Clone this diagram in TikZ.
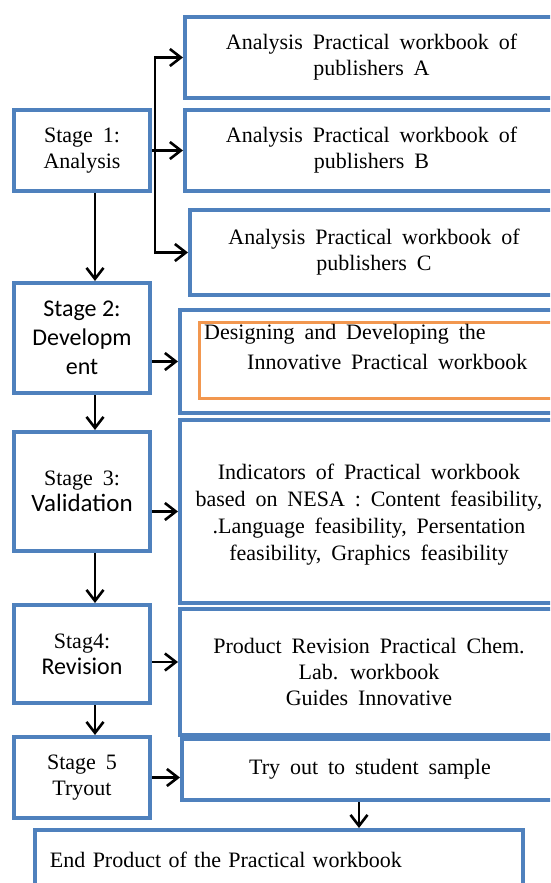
\documentclass[tikz,border=0pt]{standalone}
\usepackage{fontspec}
\setmainfont{Liberation Serif}[WordSpace=1.8]
\newfontfamily\calfont{Carlito}
\usetikzlibrary{arrows.meta}
\definecolor{boxblue}{RGB}{79,129,189}
\definecolor{boxorange}{RGB}{242,151,79}
\begin{document}
\begin{tikzpicture}[x=1pt,y=-1pt]

      \useasboundingbox (0,0) rectangle (550,883);
      \clip (0,0) rectangle (550,883);

      % stages on the left
      \begin{scope}[every node/.style={draw=boxblue,line width=4pt,fill=white,
          align=center,inner sep=0pt,minimum width=136pt,
          font=\fontsize{22}{26}\selectfont}]
        \node[minimum height=81pt] (s1) at (82,150.5) {Stage 1:\\Analysis};
        \node[minimum height=110pt,font=\calfont\fontsize{24}{29}\selectfont]
          (s2) at (82,338) {Stage 2:\\Developm\\ent};
        \node[minimum height=119pt] (s3) at (82,491.5)
          {Stage 3:\\{\calfont\fontsize{25}{29}\selectfont Validation}};
        \node[minimum height=98pt] (s4) at (82,654)
          {Stag4:\\{\calfont\fontsize{24}{30}\selectfont Revision}};
        \node[minimum height=81pt] (s5) at (82,777.5) {Stage 5\\Tryout};
      \end{scope}

      % boxes on the right
      \begin{scope}[every node/.style={draw=boxblue,line width=4pt,fill=white,
          align=center,inner sep=0pt,minimum width=373pt,
          font=\fontsize{22}{26}\selectfont}]
        \node[minimum height=81pt] (a) at (371.5,57.5)
          {Analysis Practical workbook of\\publishers A};
        \node[minimum height=81pt] (b) at (371.5,150.5)
          {Analysis Practical workbook of\\publishers B};
        \node[minimum height=85pt,minimum width=368pt] (c) at (374,252.5)
          {Analysis Practical workbook of\\publishers C};
        \node[minimum height=103pt,minimum width=378pt] (d) at (369,361.5) {};
        \node[minimum height=183pt,minimum width=378pt,
          font=\fontsize{22}{27}\selectfont] (e) at (369,511.5)
          {\\[-6pt]Indicators of Practical workbook\\
           based on NESA : Content feasibility,\\
           .Language feasibility, Persentation\\
           feasibility, Graphics feasibility};
        \node[minimum height=126pt,minimum width=378pt] (f) at (369,672)
          {Product Revision Practical Chem.\\Lab. workbook\\Guides Innovative};
        \node[minimum height=61pt,minimum width=376pt] (g) at (370,769.5)
          {Try out to student sample};
        \node[minimum height=60pt,minimum width=488pt,text width=468pt,
          align=left] (h) at (279,860)
          {\hspace*{5pt}End Product of the Practical workbook};
      \end{scope}

      \node[draw=boxorange,line width=3pt,inner sep=0pt,
        minimum width=356pt,minimum height=76pt] (o) at (377,360.5) {};
      \node[anchor=north west,align=left,inner sep=0pt,
        font=\fontsize{22}{30}\selectfont] (ot) at (204,324)
        {Designing and Developing the\\
         \hspace*{43pt}Innovative Practical workbook};

      \begin{scope}[line width=2.6pt,
          >={Straight Barb[length=11pt,width=17pt,line width=2.6pt]}]
        \draw[->] (s1.east) -- (b.west);
        \draw[->] (s1.east) -- ++(3,0) |- (a.west);
        \draw[->] (s1.east) -- ++(3,0) |- (c.west);
        \path[->] ([xshift=13pt]s1.south) edge ([xshift=13pt]s2.north);
        \path[->] ([xshift=13pt]s2.south) edge ([xshift=13pt]s3.north);
        \path[->] ([xshift=13pt]s3.south) edge ([xshift=13pt]s4.north);
        \path[->] ([xshift=13pt]s4.south) edge ([xshift=13pt]s5.north);
        \path[->] (s2.east |- d.west) edge (d.west);
        \path[->] (s3.east |- e.west) edge (e.west);
        \path[->] ([yshift=-8pt]s4.east) edge ([yshift=-8pt]s4.east -| f.west);
        \path[->] (s5.east) edge (s5.east -| g.west);
        \path[->] ([xshift=-11pt]g.south) edge ([xshift=-11pt]g.south |- h.north);
      \end{scope}

    \end{tikzpicture}
\end{document}
